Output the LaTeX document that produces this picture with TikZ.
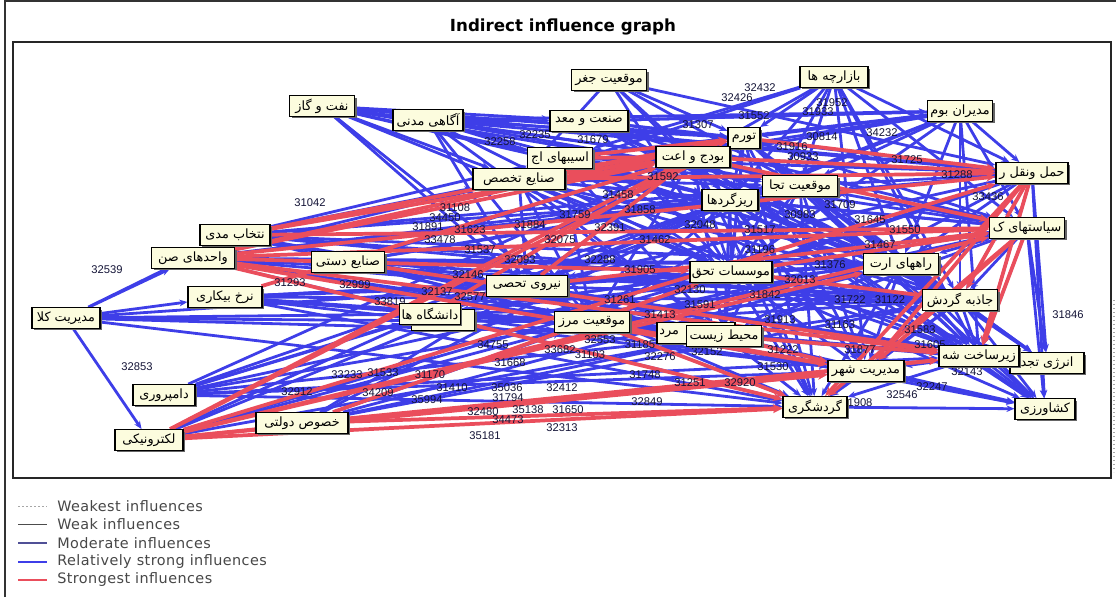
\documentclass[tikz,border=0pt]{standalone}
\usepackage{fontspec}
\setmainfont{Liberation Sans}
\newfontfamily\arabicfont[Script=Arabic]{DejaVu Sans}
\newfontfamily\legfont[LetterSpace=3]{DejaVu Sans}
\newfontfamily\titlefont{DejaVu Sans}
\TeXXeTstate=1
\usetikzlibrary{arrows.meta,shadows}
\definecolor{eblue}{RGB}{62,62,232}
\definecolor{ered}{RGB}{234,78,92}
\definecolor{boxfill}{RGB}{252,252,222}
\definecolor{numcol}{RGB}{20,20,55}
\definecolor{modcol}{RGB}{80,80,150}
\pgfdeclarelayer{edges}
\pgfdeclarelayer{nums}
\pgfsetlayers{edges,nums,main}
\tikzset{
  pb/.style={draw=black, line width=0.9pt, fill=boxfill, inner xsep=1.5pt, inner ysep=0pt,
    minimum height=15.5pt, font=\arabicfont\fontsize{9.6}{10}\selectfont,
    drop shadow={shadow xshift=1.6pt, shadow yshift=-1.6pt, fill=black!60, opacity=1}},
  be/.style={draw=eblue, line width=2.1pt, -{Stealth[length=6pt,width=5pt]}},
  re/.style={draw=ered, line width=2.8pt, -{Stealth[length=7pt,width=6pt]}},
  num/.style={font=\fontsize{8.4}{9}\selectfont, text=numcol, inner sep=0pt},
  legtext/.style={font=\legfont\fontsize{10.8}{12}\selectfont, text=black!72, anchor=west, inner sep=0pt},
}
\begin{document}
\begin{tikzpicture}[x=0.75pt,y=-0.75pt]
\useasboundingbox (0,0) rectangle (1116,597);
% frames
\coordinate (ftl) at (5,1);
\coordinate (ftr) at (1116,1);
\coordinate (fbl) at (5,597);
\draw[line width=0.8pt, black!80] (fbl) -- (ftl) -- (ftr);
\node[draw=black!85, line width=0.8pt, minimum width=1098*0.75pt, minimum height=436*0.75pt, inner sep=0pt] (frame) at (562,260) {};
\coordinate (dt) at (1114,300);
\coordinate (db) at (1114,472);
\draw[black!35, line width=1.2pt, dash pattern=on 1pt off 2pt] (dt) -- (db);
\node[font=\titlefont\bfseries\fontsize{12.5}{14}\selectfont] (title) at (563,27) {Indirect influence graph};

% nodes
\node[pb, minimum width=65*0.75pt] (naft) at (322,106) {\beginR نفت و گاز\endR};
\node[pb, minimum width=70*0.75pt] (agahi) at (428,120) {\beginR آگاهی مدنی\endR};
\node[pb, minimum width=75*0.75pt] (jogh) at (609,80) {\beginR موقعیت جغر\endR};
\node[pb, minimum width=78*0.75pt] (sanat) at (589,121) {\beginR صنعت و معد\endR};
\node[pb, minimum width=68*0.75pt] (bazar) at (834,77) {\beginR بازارچه ها\endR};
\node[pb, minimum width=65*0.75pt] (modiran) at (960,111) {\beginR مدیران بوم\endR};
\node[pb, minimum width=65*0.75pt] (asib) at (560,158) {\beginR اسیبهای اج\endR};
\node[pb, minimum width=92*0.75pt] (sanayeT) at (519,179) {\beginR صنایع تخصص\endR};
\node[pb, minimum width=32*0.75pt] (tavarom) at (744,138) {\beginR تورم\endR};
\node[pb, minimum width=74*0.75pt] (budje) at (693,157) {\beginR بودج و اعت\endR};
\node[pb, minimum width=75*0.75pt] (mtej) at (800,186) {\beginR موقعیت تجا\endR};
\node[pb, minimum width=56*0.75pt] (riz) at (730,200) {\beginR ریزگردها\endR};
\node[pb, minimum width=72*0.75pt] (haml) at (1032,173) {\beginR حمل ونقل ر\endR};
\node[pb, minimum width=75*0.75pt] (siasat) at (1027,228) {\beginR سیاستهای ک\endR};
\node[pb, minimum width=70*0.75pt] (entekhab) at (235,235) {\beginR نتخاب مدی\endR};
\node[pb, minimum width=83*0.75pt] (vahed) at (193,258) {\beginR واحدهای صن\endR};
\node[pb, minimum width=73*0.75pt] (dasti) at (348,262) {\beginR صنایع دستی\endR};
\node[pb, minimum width=82*0.75pt] (moasesat) at (731,272) {\beginR موسسات تحق\endR};
\node[pb, minimum width=75*0.75pt] (rahha) at (901,264) {\beginR راههای ارت\endR};
\node[pb, minimum width=81*0.75pt] (niru) at (527,286) {\beginR نیروی تحصی\endR};
\node[pb, minimum width=74*0.75pt] (nerkh) at (225,297) {\beginR نرخ بیکاری\endR};
\node[pb, minimum width=75*0.75pt] (jazebe) at (960,300) {\beginR جاذبه گردش\endR};
\node[pb, minimum width=68*0.75pt] (kala) at (66,318) {\beginR مدیریت کلا\endR};
\node[pb, minimum width=63*0.75pt] (hid) at (443,320) {};
\node[pb, minimum width=60*0.75pt] (daneshgah) at (430,314) {\beginR دانشگاه ها\endR};
\node[pb, minimum width=75*0.75pt] (marz) at (592,322) {\beginR موقعیت مرز\endR};
\node[pb, minimum width=78*0.75pt] (mard) at (696,333) {\makebox[55pt][l]{\beginR مرد\endR}};
\node[pb, minimum width=75*0.75pt] (mohit) at (724,336) {\beginR محیط زیست\endR};
\node[pb, minimum width=74*0.75pt] (energy) at (1047,363) {\beginR انرژی تجد\endR};
\node[pb, minimum width=80*0.75pt] (zir) at (979,356) {\beginR زیرساخت شه\endR};
\node[pb, minimum width=76*0.75pt] (modirShahr) at (866,371) {\beginR مدیریت شهر\endR};
\node[pb, minimum width=64*0.75pt] (gardesh) at (815,407) {\beginR گردشگری\endR};
\node[pb, minimum width=60*0.75pt] (keshavarzi) at (1045,409) {\beginR کشاورزی\endR};
\node[pb, minimum width=62*0.75pt] (dam) at (164,395) {\beginR دامپروری\endR};
\node[pb, minimum width=92*0.75pt] (khosus) at (302,423) {\beginR خصوص دولتی\endR};
\node[pb, minimum width=68*0.75pt] (elec) at (149,440) {\beginR لکترونیکی\endR};

\begin{pgfonlayer}{edges}
\foreach \t in {sanat,budje,riz,mtej,moasesat,niru,sanayeT,asib,marz,tavarom,haml} \draw[be] (naft) -- (\t);
\foreach \t in {sanat,tavarom,mtej,moasesat,niru,riz,rahha,marz,budje,mohit,modiran,haml} \draw[be] (agahi) -- (\t);
\foreach \t in {budje,mtej,riz,tavarom,sanayeT,moasesat,haml} \draw[be] (jogh) -- (\t);
\foreach \t in {tavarom,mtej,haml,modiran,moasesat,riz,rahha,jazebe,siasat} \draw[be] (sanat) -- (\t);
\foreach \t in {budje,tavarom,mtej,riz,moasesat,rahha,siasat,jazebe,haml,modirShahr,zir,asib,sanayeT} \draw[be] (bazar) -- (\t);
\foreach \t in {budje,tavarom,mtej,riz,moasesat,rahha,jazebe,zir,siasat,haml,asib,sanat,niru,sanayeT} \draw[be] (modiran) -- (\t);
\foreach \t in {mtej,budje,riz,moasesat,rahha,jazebe,keshavarzi,zir,energy,marz,mohit,niru} \draw[be] (haml) -- (\t);
\foreach \t in {moasesat,rahha,jazebe,zir,energy,keshavarzi,mtej,riz,mohit,niru,marz} \draw[be] (siasat) -- (\t);
\foreach \t in {sanayeT,asib,riz,moasesat,niru,marz,mohit,mtej,rahha,jazebe} \draw[be] (entekhab) -- (\t);
\foreach \t in {niru,marz,daneshgah,mohit,rahha,sanayeT,riz,mtej,jazebe} \draw[be] (vahed) -- (\t);
\foreach \t in {niru,moasesat,riz,budje,mtej,marz,mohit,rahha,jazebe} \draw[be] (dasti) -- (\t);
\foreach \t in {daneshgah,marz,moasesat,niru,mohit,modirShahr,gardesh,zir,jazebe,rahha} \draw[be] (nerkh) -- (\t);
\foreach \t in {entekhab,vahed,nerkh,daneshgah,marz,mohit,moasesat,elec,gardesh} \draw[be] (kala) -- (\t);
\foreach \t in {daneshgah,marz,mohit,moasesat,riz,budje,gardesh,modirShahr,niru,zir} \draw[be] (dam) -- (\t);
\foreach \t in {marz,mohit,moasesat,niru,riz,rahha,jazebe} \draw[be] (khosus) -- (\t);
\foreach \t in {marz,niru,moasesat,daneshgah,mohit} \draw[be] (elec) -- (\t);
\foreach \t in {riz,mtej,moasesat,rahha,jazebe,niru,marz,siasat,zir,mohit} \draw[be] (sanayeT) -- (\t);
\foreach \t in {mtej,riz,moasesat,rahha,jazebe,marz,mohit,zir,haml,siasat} \draw[be] (asib) -- (\t);
\foreach \t in {mtej,riz,moasesat,rahha,jazebe,zir,modirShahr,gardesh,mohit,marz,niru,keshavarzi} \draw[be] (budje) -- (\t);
\foreach \t in {mtej,riz,moasesat,rahha,jazebe,siasat,zir,modirShahr,gardesh,mohit} \draw[be] (tavarom) -- (\t);
\foreach \t in {riz,moasesat,rahha,jazebe,zir,modirShahr,gardesh,keshavarzi,mohit,marz,niru,energy} \draw[be] (mtej) -- (\t);
\foreach \t in {moasesat,rahha,jazebe,zir,modirShahr,gardesh,mohit,marz,niru,daneshgah,keshavarzi} \draw[be] (riz) -- (\t);
\foreach \t in {rahha,jazebe,zir,modirShahr,gardesh,keshavarzi,energy,mohit,marz,niru,daneshgah} \draw[be] (moasesat) -- (\t);
\foreach \t in {marz,mohit,rahha,jazebe,zir,modirShahr,gardesh,energy} \draw[be] (niru) -- (\t);
\foreach \t in {mohit,rahha,jazebe,zir,modirShahr,gardesh,keshavarzi,energy} \draw[be] (marz) -- (\t);
\foreach \t in {rahha,jazebe,zir,modirShahr,gardesh,energy,keshavarzi} \draw[be] (mohit) -- (\t);
\foreach \t in {jazebe,zir,modirShahr,gardesh,keshavarzi,energy} \draw[be] (rahha) -- (\t);
\foreach \t in {zir,modirShahr,gardesh,keshavarzi,energy} \draw[be] (jazebe) -- (\t);
\foreach \t in {keshavarzi,energy,gardesh,modirShahr} \draw[be] (zir) -- (\t);
\foreach \t in {gardesh,keshavarzi} \draw[be] (modirShahr) -- (\t);
\foreach \t in {moasesat,niru,marz,mohit,gardesh,modirShahr,rahha,jazebe} \draw[be] (daneshgah) -- (\t);
\draw[be] (gardesh) -- (keshavarzi);
% strongest
\foreach \t in {budje,haml,tavarom,moasesat,modirShahr,zir,gardesh,siasat} \draw[re] (vahed) -- (\t);
\foreach \t in {budje,tavarom,siasat} \draw[re] (entekhab) -- (\t);
\foreach \t in {budje,tavarom,haml,siasat,rahha,zir,modirShahr,gardesh} \draw[re] (elec) -- (\t);
\foreach \t in {gardesh,modirShahr,zir,moasesat} \draw[re] (khosus) -- (\t);
\foreach \t in {budje,tavarom,haml} \draw[re] (sanayeT) -- (\t);
\foreach \t in {tavarom,budje} \draw[re] (asib) -- (\t);
\foreach \t in {haml,siasat} \draw[re] (budje) -- (\t);
\foreach \t in {gardesh,jazebe,zir,modirShahr} \draw[re] (haml) -- (\t);
\foreach \t in {gardesh,modirShahr,zir} \draw[re] (siasat) -- (\t);
\foreach \t in {modirShahr,gardesh} \draw[re] (marz) -- (\t);
\foreach \t in {modirShahr,zir} \draw[re] (mohit) -- (\t);
\foreach \t in {siasat,jazebe} \draw[re] (moasesat) -- (\t);
\foreach \t in {budje,siasat} \draw[re] (niru) -- (\t);
\draw[re] (daneshgah) -- (budje);
\draw[re] (tavarom) -- (haml);
\draw[re] (dasti) -- (zir);
\draw[re] (nerkh) -- (budje);
\end{pgfonlayer}

\begin{pgfonlayer}{nums}
\foreach \x/\y/\t [count=\i] in {
760/88/32432, 737/98/32426, 698/125/31307, 754/116/31552, 832/103/31952, 818/112/31933,
822/137/30814, 792/147/31916, 803/157/30933, 882/133/34232, 907/160/31725, 957/175/31288,
988/197/33436, 310/203/31042, 107/270/32539, 290/283/31293, 355/285/32999, 390/302/33819,
437/292/32137, 468/275/32146, 470/297/32577, 137/367/32853, 297/392/32912, 347/375/33233,
383/373/31533, 430/375/31170, 452/388/31410, 378/393/34209, 427/400/35994, 483/412/32480,
485/436/35181, 507/388/35036, 508/398/31794, 562/388/32412, 528/410/35138, 568/410/31650,
508/420/34473, 562/428/32313, 647/402/32849, 690/383/31251, 645/375/31748, 660/357/32276,
493/345/34755, 510/363/31668, 1068/315/31846, 902/395/32546, 860/403/1908, 932/387/32247,
967/372/32143, 783/350/31222, 707/352/32152, 740/383/32920, 773/367/31530, 593/140/31679,
535/135/32235, 500/142/32258, 663/177/31592, 618/195/31458, 640/210/31858, 455/208/31108,
445/218/34450, 428/227/31891, 440/240/33478, 575/215/31759, 610/228/32391, 655/240/31462,
700/225/32048, 760/230/31517, 800/215/30983, 840/205/31709, 870/220/31645, 905/230/31550,
880/245/31467, 600/260/32288, 640/270/31905, 690/290/32130, 765/295/31842, 800/280/32013,
830/265/31376, 850/300/31722, 620/300/31261, 660/315/31413, 780/320/31913, 840/325/31163,
890/300/31122, 920/330/31583, 930/345/31605, 860/350/31877, 760/250/31196, 560/240/32075,
530/225/31884, 520/260/32093, 480/250/31537, 470/230/31623, 600/340/32553, 640/345/31185,
700/305/31591, 560/350/33682, 590/355/31103}
  \node[num] (n\i) at (\x,\y) {\t};
\end{pgfonlayer}

% legend
\coordinate (la1) at (18,506); \coordinate (lb1) at (47,506);
\coordinate (la2) at (18,524); \coordinate (lb2) at (47,524);
\coordinate (la3) at (18,543); \coordinate (lb3) at (47,543);
\coordinate (la4) at (18,562); \coordinate (lb4) at (47,562);
\coordinate (la5) at (18,580); \coordinate (lb5) at (47,580);
\draw[black!35, line width=0.6pt, dash pattern=on 1.5pt off 1.5pt] (la1) -- (lb1);
\draw[black!70, line width=0.6pt] (la2) -- (lb2);
\draw[modcol, line width=0.8pt] (la3) -- (lb3);
\draw[eblue, line width=1.8pt] (la4) -- (lb4);
\draw[ered, line width=1.8pt] (la5) -- (lb5);
\node[legtext] (t1) at (57,506) {Weakest influences};
\node[legtext] (t2) at (57,524) {Weak influences};
\node[legtext] (t3) at (57,543) {Moderate influences};
\node[legtext] (t4) at (57,562) {Relatively strong influences};
\node[legtext] (t5) at (57,580) {Strongest influences};
\end{tikzpicture}
\end{document}
